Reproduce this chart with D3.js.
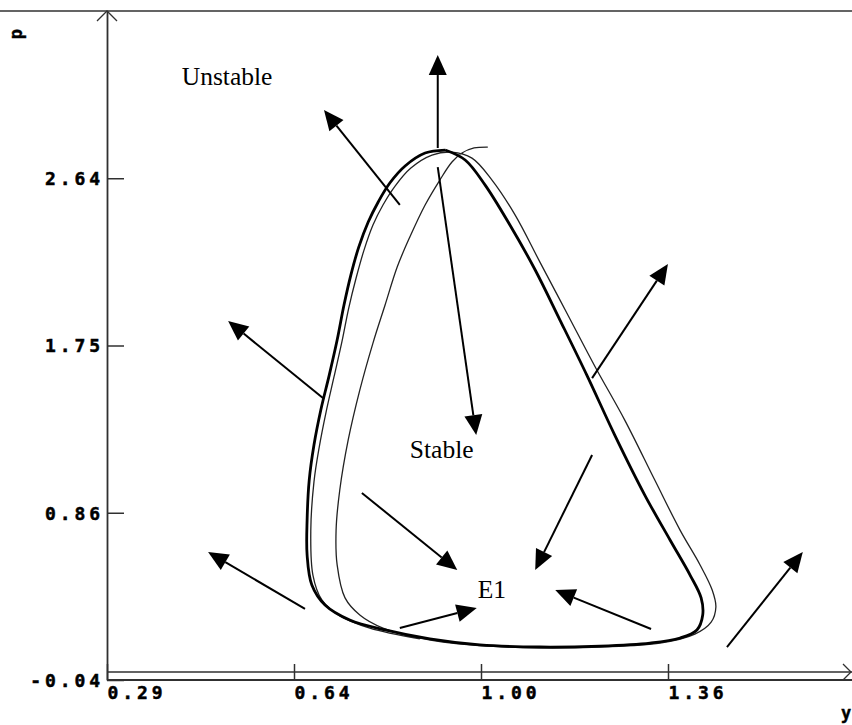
<!DOCTYPE html>
<html>
<head>
<meta charset="utf-8">
<script src="https://cdn.jsdelivr.net/npm/d3@7/dist/d3.min.js"></script>
<style>
  html, body { margin: 0; padding: 0; background: #fff; }
  svg { display: block; }
</style>
</head>
<body>
<svg id="chart" width="852" height="725"></svg>
<script>
// ---- data (phase plane: y horizontal, p vertical) ----
const xTickValues = [0.29, 0.645, 1.00, 1.355];
const xTickLabels = ["0.29", "0.64", "1.00", "1.36"];
const yTickValues = [-0.04, 0.8525, 1.745, 2.6375];
const yTickLabels = ["-0.04", "0.86", "1.75", "2.64"];

// stable limit cycle (closed orbit)
const limitCycle = [
  [0.930, 2.788], [0.968, 2.735], [1.006, 2.601], [1.053, 2.388], [1.101, 2.148],
  [1.148, 1.881], [1.199, 1.587], [1.252, 1.267], [1.309, 0.947], [1.357, 0.707],
  [1.395, 0.520], [1.416, 0.398], [1.419, 0.307], [1.408, 0.227], [1.376, 0.184],
  [1.319, 0.157], [1.224, 0.141], [1.110, 0.136], [0.996, 0.147], [0.901, 0.179],
  [0.816, 0.227], [0.749, 0.280], [0.702, 0.360], [0.677, 0.467], [0.668, 0.627],
  [0.668, 0.814], [0.672, 1.027], [0.681, 1.214], [0.694, 1.401], [0.710, 1.587],
  [0.725, 1.774], [0.738, 1.961], [0.751, 2.121], [0.766, 2.270], [0.784, 2.404],
  [0.803, 2.511], [0.825, 2.612], [0.854, 2.703], [0.892, 2.772], [0.930, 2.788]
];

// trajectory spiralling out onto the limit cycle
const trajectory = [
  [1.011, 2.804], [0.985, 2.799], [0.962, 2.772], [0.943, 2.724], [0.920, 2.628],
  [0.892, 2.495], [0.863, 2.324], [0.839, 2.164], [0.816, 1.961], [0.793, 1.758],
  [0.768, 1.507], [0.746, 1.241], [0.730, 0.974], [0.723, 0.760], [0.725, 0.574],
  [0.740, 0.398], [0.768, 0.307], [0.812, 0.237], [0.882, 0.184], [0.977, 0.147],
  [1.110, 0.131], [1.224, 0.136], [1.338, 0.157], [1.404, 0.205], [1.435, 0.269],
  [1.444, 0.350], [1.437, 0.440], [1.414, 0.574], [1.376, 0.760], [1.328, 1.027],
  [1.271, 1.347], [1.216, 1.625], [1.163, 1.908], [1.110, 2.190], [1.063, 2.441],
  [1.019, 2.628], [0.981, 2.745], [0.943, 2.777], [0.905, 2.761], [0.865, 2.692],
  [0.835, 2.596], [0.812, 2.495], [0.793, 2.388], [0.776, 2.254], [0.761, 2.105],
  [0.747, 1.945], [0.734, 1.764], [0.719, 1.577], [0.704, 1.390], [0.691, 1.203],
  [0.681, 1.017], [0.675, 0.760], [0.679, 0.520], [0.696, 0.387], [0.730, 0.302],
  [0.787, 0.237], [0.882, 0.179]
];

// direction arrows: [tailX, tailY, tipX, tipY]
const arrows = [
  [0.916, 2.799, 0.916, 3.295],
  [0.916, 2.697, 0.989, 1.267],
  [0.844, 2.495, 0.700, 3.002],
  [0.698, 1.465, 0.518, 1.876],
  [1.209, 1.571, 1.353, 2.180],
  [0.664, 0.339, 0.480, 0.643],
  [0.772, 0.958, 0.953, 0.547],
  [1.209, 1.161, 1.101, 0.547],
  [0.844, 0.237, 0.990, 0.344],
  [1.321, 0.232, 1.139, 0.440],
  [1.465, 0.136, 1.609, 0.643]
];

// annotations: [text, y, p]
const notes = [
  ["Unstable", 0.430, 3.135],
  ["Stable", 0.863, 1.145],
  ["E1", 0.992, 0.398]
];

// ---- drawing ----
const svg = d3.select("#chart");
const x = d3.scaleLinear().domain([0.29, 1.71]).range([108, 856]);
const y = d3.scaleLinear().domain([-0.04, 3.53]).range([680, 11]);
const axisColor = "#303030";
const monoFont = "'DejaVu Sans Mono', 'Liberation Mono', monospace";

// top frame line
svg.append("line").attr("x1", 0).attr("x2", 852).attr("y1", y(3.53)).attr("y2", y(3.53))
  .attr("stroke", axisColor).attr("stroke-width", 1.6);

// y axis (ticks to the right, labels on the left)
const gy = svg.append("g").attr("transform", `translate(${x(0.29) - 1},0)`)
  .call(d3.axisRight(y).tickValues(yTickValues).tickFormat((d, i) => yTickLabels[i])
    .tickSize(17).tickSizeOuter(0));
gy.select(".domain").attr("stroke", axisColor).attr("stroke-width", 1.8);
gy.selectAll(".tick line").attr("stroke", axisColor).attr("stroke-width", 1.5);
gy.selectAll(".tick text")
  .attr("x", -3).attr("text-anchor", "end").attr("dy", "0.36em")
  .style("font-family", monoFont).style("font-weight", "bold")
  .style("font-size", "18px").style("letter-spacing", "3.9px")
  .attr("fill", "#000").attr("stroke", "#000").attr("stroke-width", 0.5);

// y axis arrow head
svg.append("path")
  .attr("d", `M${x(0.29) - 11},${y(3.53) + 10} L${x(0.29) - 1},${y(3.53)} L${x(0.29) + 9},${y(3.53) + 10}`)
  .attr("fill", "none").attr("stroke", axisColor).attr("stroke-width", 1.3);

// x axis (double line with crossing ticks)
const gx = svg.append("g").attr("transform", `translate(-1,${y(-0.04)})`)
  .call(d3.axisTop(x).tickValues(xTickValues).tickFormat((d, i) => xTickLabels[i])
    .tickSize(16).tickSizeOuter(0));
gx.select(".domain").remove();
gx.selectAll(".tick line").attr("stroke", axisColor).attr("stroke-width", 1.5);
gx.selectAll(".tick text")
  .attr("y", 19).attr("dy", null).attr("x", 0).attr("text-anchor", "start")
  .style("font-family", monoFont).style("font-weight", "bold")
  .style("font-size", "18px").style("letter-spacing", "3.9px")
  .attr("fill", "#000").attr("stroke", "#000").attr("stroke-width", 0.5);

svg.append("line").attr("x1", x(0.29) - 1).attr("x2", 852)
  .attr("y1", y(-0.04)).attr("y2", y(-0.04))
  .attr("stroke", axisColor).attr("stroke-width", 1.8);
svg.append("line").attr("x1", x(0.29) - 1).attr("x2", 852)
  .attr("y1", y(-0.04) - 8).attr("y2", y(-0.04) - 8)
  .attr("stroke", axisColor).attr("stroke-width", 1.6);
svg.append("path")
  .attr("d", `M843,${y(-0.04) - 16} L851,${y(-0.04) - 8} L843,${y(-0.04)}`)
  .attr("fill", "none").attr("stroke", axisColor).attr("stroke-width", 1.3);

// axis names
svg.append("text").attr("transform", `translate(22,34) rotate(-90)`)
  .attr("text-anchor", "middle")
  .style("font-family", monoFont).style("font-weight", "bold").style("font-size", "17px")
  .attr("stroke", "#000").attr("stroke-width", 0.4)
  .text("p");
svg.append("text").attr("x", 841).attr("y", 719)
  .style("font-family", monoFont).style("font-weight", "bold").style("font-size", "17px")
  .attr("stroke", "#000").attr("stroke-width", 0.4)
  .text("y");

// curves
const line = d3.line().x(d => x(d[0])).y(d => y(d[1])).curve(d3.curveCatmullRom.alpha(0.5));
svg.append("path").datum(trajectory).attr("d", line)
  .attr("fill", "none").attr("stroke", "#222").attr("stroke-width", 1.3);
svg.append("path").datum(limitCycle).attr("d", line)
  .attr("fill", "none").attr("stroke", "#000").attr("stroke-width", 2.8);

// arrows
const headLen = 20, headHalf = 9;
const ga = svg.append("g");
arrows.forEach(a => {
  const x0 = x(a[0]), y0 = y(a[1]), x1 = x(a[2]), y1 = y(a[3]);
  const dx = x1 - x0, dy = y1 - y0, len = Math.hypot(dx, dy);
  const ux = dx / len, uy = dy / len;
  const bx = x1 - ux * headLen, by = y1 - uy * headLen;
  ga.append("line").attr("x1", x0).attr("y1", y0).attr("x2", bx).attr("y2", by)
    .attr("stroke", "#000").attr("stroke-width", 2);
  ga.append("path")
    .attr("d", `M${x1},${y1} L${bx - uy * headHalf},${by + ux * headHalf} L${bx + uy * headHalf},${by - ux * headHalf} Z`)
    .attr("fill", "#000");
});

// annotations
svg.append("g").selectAll("text").data(notes).join("text")
  .attr("x", d => x(d[1])).attr("y", d => y(d[2]))
  .style("font-family", "'Liberation Serif', 'Times New Roman', serif")
  .style("font-size", "25.5px").attr("fill", "#000")
  .text(d => d[0]);
</script>
</body>
</html>
